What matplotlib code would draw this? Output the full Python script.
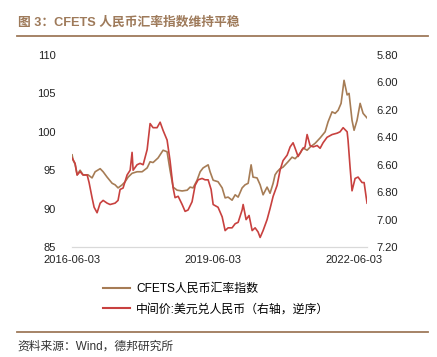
import pandas as pd
import matplotlib.pyplot as plt
import matplotlib.dates as mdates
from matplotlib.lines import Line2D

plt.rcParams['font.family'] = ['Liberation Sans', 'Noto Sans CJK SC']

# CFETS RMB index (left axis)
cfets_dates = [
    '2016-06-03', '2016-06-11', '2016-06-26', '2016-07-12', '2016-08-04', '2016-08-27',
    '2016-10-05', '2016-11-05', '2016-11-29', '2017-01-07', '2017-01-30', '2017-03-02',
    '2017-04-10', '2017-05-03', '2017-05-26', '2017-06-27', '2017-07-20', '2017-08-12',
    '2017-09-12', '2017-10-21', '2017-11-29', '2018-01-07', '2018-01-30', '2018-02-22',
    '2018-04-02', '2018-05-11', '2018-06-11', '2018-07-04', '2018-07-28', '2018-08-28',
    '2018-10-06', '2018-11-14', '2018-12-07', '2018-12-30', '2019-01-30', '2019-02-23',
    '2019-03-18', '2019-04-26', '2019-05-11', '2019-06-04', '2019-07-12', '2019-08-13',
    '2019-09-05', '2019-09-28', '2019-10-29', '2019-11-22', '2019-12-15', '2020-01-15',
    '2020-02-07', '2020-03-02', '2020-03-25', '2020-04-09', '2020-05-10', '2020-06-03',
    '2020-06-26', '2020-07-27', '2020-08-19', '2020-09-12', '2020-09-27', '2020-10-13',
    '2020-11-05', '2020-11-28', '2021-01-06', '2021-02-06', '2021-03-02', '2021-04-10',
    '2021-05-03', '2021-06-03', '2021-06-26', '2021-08-04', '2021-09-12', '2021-10-21',
    '2021-11-13', '2021-12-14', '2022-01-07', '2022-01-30', '2022-02-22', '2022-03-17',
    '2022-04-10', '2022-04-25', '2022-05-18', '2022-06-03', '2022-06-26', '2022-07-20',
    '2022-08-12', '2022-09-12',
]
cfets_values = [
    97.0, 96.3, 95.8, 94.4, 95.0, 94.4,
    94.4, 94.0, 94.8, 95.2, 94.8, 94.1,
    93.3, 93.1, 92.7, 93.1, 93.5, 94.1,
    94.6, 94.8, 94.8, 95.3, 96.1, 96.0,
    96.6, 97.6, 97.4, 95.0, 92.8, 92.4,
    92.3, 92.4, 92.8, 92.7, 93.7, 94.8,
    95.3, 95.7, 94.8, 93.7, 93.5, 92.7,
    91.4, 91.5, 91.1, 91.8, 91.5, 92.7,
    93.1, 93.3, 95.7, 94.1, 94.0, 93.1,
    91.8, 92.8, 92.0, 93.3, 94.4, 94.8,
    95.2, 95.4, 96.1, 96.7, 96.5, 97.2,
    97.9, 97.6, 98.0, 98.5, 99.2, 100.0,
    101.3, 102.6, 102.4, 102.8, 103.7, 106.7,
    104.8, 105.0, 101.5, 100.2, 101.5, 103.7,
    102.4, 101.8,
]

# USD/CNY central parity (right axis, inverted)
usd_dates = [
    '2016-06-03', '2016-06-26', '2016-07-12', '2016-08-04', '2016-08-27', '2016-09-28',
    '2016-10-13', '2016-11-05', '2016-11-21', '2016-12-14', '2017-01-07', '2017-01-30',
    '2017-03-02', '2017-03-25', '2017-05-03', '2017-05-26', '2017-06-11', '2017-07-04',
    '2017-08-04', '2017-08-28', '2017-09-12', '2017-09-20', '2017-10-21', '2017-11-13',
    '2017-12-07', '2018-01-07', '2018-01-30', '2018-02-22', '2018-03-25', '2018-04-18',
    '2018-05-11', '2018-06-11', '2018-07-04', '2018-07-28', '2018-08-12', '2018-09-05',
    '2018-10-06', '2018-10-29', '2018-11-21', '2018-12-22', '2019-01-15', '2019-02-07',
    '2019-03-10', '2019-04-02', '2019-04-26', '2019-05-19', '2019-06-04', '2019-07-12',
    '2019-08-13', '2019-09-05', '2019-09-28', '2019-10-29', '2019-11-22', '2019-12-15',
    '2020-01-15', '2020-01-23', '2020-02-15', '2020-03-09', '2020-04-02', '2020-04-25',
    '2020-05-18', '2020-06-03', '2020-06-26', '2020-07-27', '2020-08-19', '2020-09-12',
    '2020-10-13', '2020-11-05', '2020-11-28', '2020-12-30', '2021-01-22', '2021-02-14',
    '2021-03-02', '2021-03-25', '2021-04-25', '2021-05-18', '2021-06-03', '2021-06-26',
    '2021-07-20', '2021-08-20', '2021-09-12', '2021-10-05', '2021-11-05', '2021-12-14',
    '2022-01-22', '2022-02-14', '2022-03-10', '2022-04-10', '2022-04-17', '2022-05-03',
    '2022-05-18', '2022-06-11', '2022-07-04', '2022-08-04', '2022-08-20', '2022-09-04',
    '2022-09-12',
]
usd_values = [
    6.55, 6.59, 6.675, 6.65, 6.675, 6.675,
    6.73, 6.84, 6.91, 6.95, 6.88, 6.86,
    6.88, 6.89, 6.88, 6.86, 6.78, 6.77,
    6.675, 6.64, 6.51, 6.64, 6.60, 6.59,
    6.60, 6.49, 6.30, 6.33, 6.33, 6.29,
    6.35, 6.42, 6.57, 6.77, 6.84, 6.83,
    6.89, 6.94, 6.93, 6.87, 6.75, 6.71,
    6.70, 6.71, 6.71, 6.78, 6.89, 6.91,
    6.98, 7.08, 7.06, 7.06, 7.03, 7.02,
    6.93, 6.89, 7.00, 6.97, 7.08, 7.06,
    7.09, 7.13, 7.08, 7.00, 6.92, 6.83,
    6.75, 6.64, 6.57, 6.53, 6.47, 6.44,
    6.48, 6.54, 6.49, 6.47, 6.38, 6.46,
    6.47, 6.46, 6.48, 6.44, 6.40, 6.38,
    6.37, 6.36, 6.33, 6.36, 6.42, 6.62,
    6.79, 6.70, 6.69, 6.73, 6.73, 6.83,
    6.88,
]

x_ticks = ['2016-06-03', '2019-06-03', '2022-06-03']
left_ticks = [85, 90, 95, 100, 105, 110]
right_ticks = [5.8, 6.0, 6.2, 6.4, 6.6, 6.8, 7.0, 7.2]

brown = '#A67C55'
red = '#C8413F'
title_col = '#9E7A5A'

fig = plt.figure(figsize=(4.37, 3.57), dpi=100)
ax = fig.add_axes([0.165, 0.308, 0.675, 0.538])
ax2 = ax.twinx()

cd = pd.to_datetime(cfets_dates)
ud = pd.to_datetime(usd_dates)
ax.plot(cd, cfets_values, color=brown, lw=1.2, zorder=3)
ax2.plot(ud, usd_values, color=red, lw=1.2, zorder=2)

ax.set_ylim(85, 110)
ax.set_yticks(left_ticks)
ax.set_yticklabels([str(v) for v in left_ticks])
ax2.set_ylim(7.2, 5.8)
ax2.set_yticks(right_ticks)
ax2.set_yticklabels([f'{v:.2f}' for v in right_ticks])

ax.set_xlim(pd.Timestamp('2016-06-03'), pd.Timestamp('2022-09-12'))
ax.set_xticks(pd.to_datetime(x_ticks))
ax.xaxis.set_major_formatter(mdates.DateFormatter('%Y-%m-%d'))

for a in (ax, ax2):
    for s in ('top', 'left', 'right'):
        a.spines[s].set_visible(False)
    a.spines['bottom'].set_color('#d9d9d9')
    a.tick_params(length=0, labelsize=8, colors='#222222')
ax.tick_params(axis='y', pad=12)
ax2.tick_params(axis='y', pad=7)
ax.tick_params(axis='x', pad=6)

# title and rules
fig.text(0.041, 0.938, '图 3：CFETS 人民币汇率指数维持平稳', fontsize=9.2,
         fontweight='bold', color=title_col, va='center', ha='left')
fig.add_artist(Line2D([0.039, 0.979], [0.899, 0.899], color=title_col, lw=1.3))
fig.add_artist(Line2D([0.039, 0.979], [0.071, 0.071], color=title_col, lw=1.3))
fig.text(0.039, 0.028, '资料来源：Wind，德邦研究所', fontsize=8.5,
         color='#333333', va='center', ha='left')

handles = [Line2D([], [], color=brown, lw=1.5), Line2D([], [], color=red, lw=1.5)]
labels = ['CFETS人民币汇率指数', '中间价:美元兑人民币（右轴，逆序）']
fig.legend(handles, labels, loc='upper left', bbox_to_anchor=(0.235, 0.207),
           frameon=False, fontsize=8.6, handlelength=2.3, handletextpad=0.5,
           labelspacing=0.7, borderpad=0, borderaxespad=0)

fig.savefig('out.png', dpi=100)
